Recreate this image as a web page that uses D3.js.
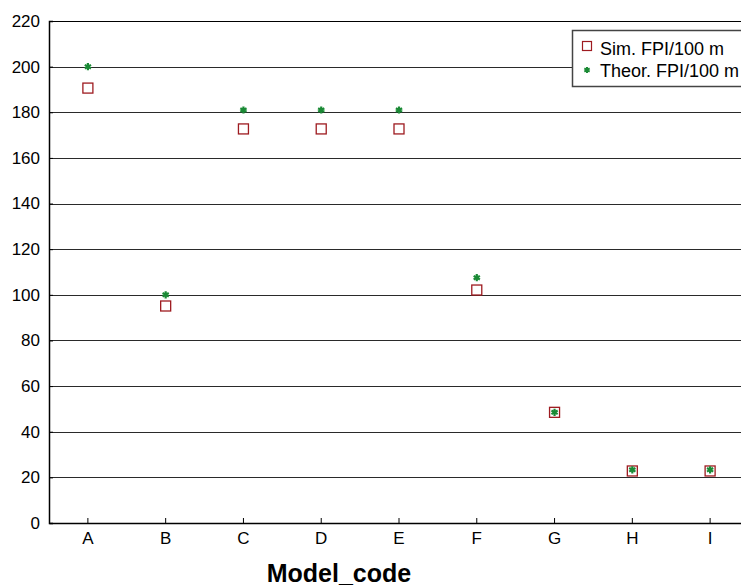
<!DOCTYPE html>
<html><head><meta charset="utf-8">
<script src="https://cdn.jsdelivr.net/npm/d3@7"></script>
<style>body{margin:0;background:#fff;} svg{display:block;font-family:"Liberation Sans",Arial,sans-serif;}</style>
</head><body><svg id="c" width="741" height="586"></svg>
<script>
const categories = ["A","B","C","D","E","F","G","H","I"];
const simValues = [190.6, 95.1, 172.7, 172.7, 172.7, 102.1, 48.5, 22.8, 22.8];
const theorValues = [200, 100, 181, 181, 181, 107.5, 48.5, 23.3, 23.3];
const yTicks = [0,20,40,60,80,100,120,140,160,180,200,220];
const seriesNames = ["Sim. FPI/100 m","Theor. FPI/100 m"];

const svg = d3.select("#c");
const L = 49, T = 21, B = 523, W = 700;
const x = d3.scaleBand().domain(categories).range([L, L + W]).padding(0);
const y = d3.scaleLinear().domain([0,220]).range([B, T]);

// grid
svg.append("g").selectAll("line").data(yTicks.filter(d=>d>0)).join("line")
  .attr("x1", L).attr("x2", L + W).attr("y1", d=>Math.round(y(d))+0.5).attr("y2", d=>Math.round(y(d))+0.5)
  .attr("stroke", d => d===220 ? "#000" : "#2a2a2a").attr("stroke-width", 1);

// y axis
const ya = svg.append("g").attr("transform",`translate(${L},0)`)
  .call(d3.axisLeft(y).tickValues(yTicks).tickSize(-4).tickPadding(9));
ya.select(".domain").attr("stroke","#000").attr("stroke-width",1.5);
ya.selectAll("text").attr("font-size",17).attr("fill","#000").attr("font-family","Liberation Sans, Arial");
ya.selectAll(".tick line").attr("stroke","#000");

// x axis
const xa = svg.append("g").attr("transform",`translate(0,${B})`)
  .call(d3.axisBottom(x).tickSize(-5).tickPadding(9).tickSizeOuter(0));
xa.select(".domain").attr("stroke","#000").attr("stroke-width",1.5);
xa.selectAll("text").attr("font-size",17).attr("fill","#000").attr("font-family","Liberation Sans, Arial");
xa.selectAll(".tick line").attr("stroke","#000");

svg.append("text").attr("x",339).attr("y",582).attr("text-anchor","middle")
  .attr("font-size",25).attr("font-weight","bold").text("Model_code");

const red = "#9e1b20", green = "#1a8a35";
const cx = d => x(d) + x.bandwidth()/2;
const star = d3.symbol().type(d3.symbolAsterisk).size(36);

svg.append("g").selectAll("rect").data(categories).join("rect")
  .attr("x", (d)=>cx(d)-5).attr("y",(d,i)=>y(simValues[i])-5)
  .attr("width",10).attr("height",10).attr("fill","none").attr("stroke",red).attr("stroke-width",1.3);

svg.append("g").selectAll("path").data(categories).join("path")
  .attr("transform",(d,i)=>`translate(${cx(d)},${y(theorValues[i])})`)
  .attr("d", star).attr("stroke",green).attr("stroke-width",2.2).attr("fill","none");

// legend
const lg = svg.append("g");
lg.append("rect").attr("x",572.5).attr("y",30.5).attr("width",200).attr("height",56)
  .attr("fill","#fff").attr("stroke","#444").attr("stroke-width",1.5);
lg.append("rect").attr("x",582.5).attr("y",41.5).attr("width",9).attr("height",9)
  .attr("fill","none").attr("stroke",red).attr("stroke-width",1.2);
lg.append("path").attr("transform","translate(587,70)").attr("d",d3.symbol().type(d3.symbolAsterisk).size(26))
  .attr("stroke",green).attr("stroke-width",2).attr("fill","none");
lg.selectAll("text").data(seriesNames).join("text")
  .attr("x",600).attr("y",(d,i)=>54.5+i*22.5).attr("font-size",18).text(d=>d);
</script></body></html>
